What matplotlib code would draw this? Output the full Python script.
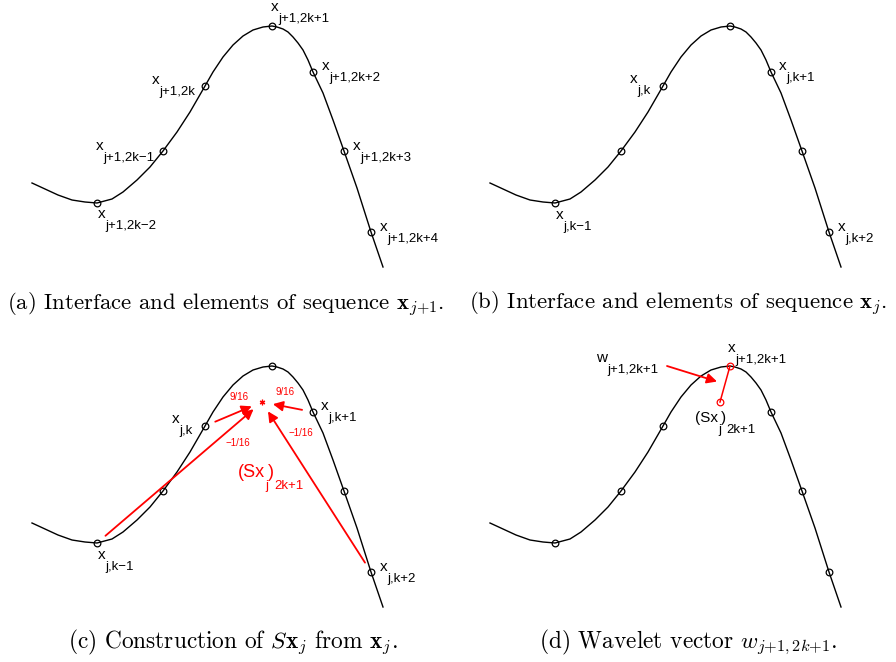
import matplotlib
matplotlib.use("Agg")
import matplotlib.pyplot as plt

plt.rcParams["mathtext.fontset"] = "cm"

# curve, in pixel units of one panel (y down)
curve_x = [32, 45, 58, 72, 85, 97, 112, 123, 137, 150, 163, 177, 190, 205, 213, 223,
           233, 243, 253, 263, 272, 277, 283, 288, 293, 298, 303, 308, 313, 323, 333,
           344, 357, 371, 383]
curve_y = [183, 189, 195, 200, 202, 203, 199, 192, 180, 167, 151, 132, 112, 86, 72, 57,
           45, 36, 30, 27, 26, 27, 29, 32, 37, 43, 50, 60, 72, 93, 120,
           151, 188, 232, 267]

# the seven sample points x_{j+1,2k-2} ... x_{j+1,2k+4}
pts_x = [97, 163, 205, 272, 313, 344, 371]
pts_y = [203, 151, 86, 26, 72, 151, 232]

# predicted point (Sx_j)_{2k+1}
sx_x, sx_y = 262, 62

subs_a = ["j+1,2k\u22122", "j+1,2k\u22121", "j+1,2k", "j+1,2k+1",
          "j+1,2k+2", "j+1,2k+3", "j+1,2k+4"]
subs_b = ["j,k\u22121", "j,k", "j,k+1", "j,k+2"]
idx_b = [0, 2, 4, 6]          # which sample points carry the coarse labels
weights = ["\u22121/16", "9/16", "9/16", "\u22121/16"]

captions = [r"(a) Interface and elements of sequence $\mathbf{x}_{j{+}1}$.",
            r"(b) Interface and elements of sequence $\mathbf{x}_j$.",
            r"(c) Construction of $S\mathbf{x}_j$ from $\mathbf{x}_j$.",
            r"(d) Wavelet vector $w_{j{+}1,2k{+}1}$."]

W, H = 896, 662
fig = plt.figure(figsize=(W / 100, H / 100), dpi=100)
SANS = "Liberation Sans"


def panel(left, top):
    ax = fig.add_axes([left / W, 1 - (top + 320) / H, 438 / W, 320 / H])
    ax.set_xlim(0, 438)
    ax.set_ylim(320, 0)
    ax.axis("off")
    ax.plot(curve_x, curve_y, color="k", lw=1.0)
    return ax


def label(ax, x, y, base, sub, color="k", bsize=11, ssize=9.5):
    t = ax.text(x, y, base, fontsize=bsize, color=color, family=SANS,
                va="baseline", ha="left")
    s = ax.annotate(sub, xy=(1, 0), xycoords=t, xytext=(0, 1),
                    textcoords="offset points", va="top", ha="left",
                    fontsize=ssize, color=color, family=SANS)
    return t, s


def sx_label(ax, x, y, color, bsize, ssize):
    t0 = ax.text(x, y, "(Sx", fontsize=bsize, color=color, family=SANS,
                 va="baseline", ha="left")
    t1 = ax.annotate("j", xy=(1, 0), xycoords=t0, xytext=(0, 1),
                     textcoords="offset points", va="top", ha="left",
                     fontsize=ssize, color=color, family=SANS)
    t2 = ax.annotate(")", xy=(1, 0), xycoords=(t1, t0), va="bottom", ha="left",
                     fontsize=bsize, color=color, family=SANS)
    ax.annotate("2k+1", xy=(1, 0), xycoords=t2, xytext=(0, 1),
                textcoords="offset points", va="top", ha="left",
                fontsize=ssize, color=color, family=SANS)


def caption(ax, cx, y, text, size=16.8):
    ax.text(cx, y, text, family="cmr10", fontsize=size, ha="center",
            va="baseline")


circ = dict(ls="none", marker="o", ms=4.8, mfc="none", mew=0.9)

# (a)
ax = panel(0, 0)
ax.plot(pts_x, pts_y, color="k", **circ)
pos_a = [(98, 218), (96, 150), (152, 84), (271, 11), (322, 70), (353, 150), (380, 231)]
for (lx, ly), s in zip(pos_a, subs_a):
    label(ax, lx, ly, "x", s)
caption(ax, 226, 310, captions[0], 16.4)

# (b)
ax = panel(458, 0)
ax.plot(pts_x, pts_y, color="k", **circ)
pos_b = [(98, 219), (172, 83), (321, 70), (380, 231)]
for (lx, ly), s in zip(pos_b, subs_b):
    label(ax, lx, ly, "x", s)
caption(ax, 220, 309, captions[1], 16.4)

# (c)
ax = panel(0, 340)
ax.plot(pts_x, pts_y, color="k", **circ)
for (lx, ly), s in zip(pos_b, subs_b):
    label(ax, lx, ly, "x", s)
for i in idx_b:
    ax.annotate("", xy=(sx_x, sx_y), xytext=(pts_x[i], pts_y[i]),
                arrowprops=dict(arrowstyle="-|>,head_length=0.6,head_width=0.3",
                                color="red", lw=1.3, shrinkA=8, shrinkB=8))
ax.plot([sx_x], [sx_y], ls="none", marker=(6, 2, 0), ms=4, color="red", mew=0.9)
wpos = [(238, 103), (239, 57), (285, 52), (301, 93)]
for (wx, wy), w in zip(wpos, weights):
    ax.text(wx, wy, w, color="red", fontsize=7, family=SANS, ha="center",
            va="center")
sx_label(ax, 238, 137, "red", 13, 9.5)
caption(ax, 233, 308, captions[2])

# (d)
ax = panel(458, 340)
mask = [i for i in range(len(pts_x)) if i != 3]
ax.plot([pts_x[i] for i in mask], [pts_y[i] for i in mask], color="k", **circ)
ax.plot([sx_x, pts_x[3]], [sx_y, pts_y[3]], color="red", lw=1.1)
ax.plot([sx_x, pts_x[3]], [sx_y, pts_y[3]], color="red", **circ)
mid = ((sx_x + pts_x[3]) / 2, (sx_y + pts_y[3]) / 2)
ax.annotate("", xy=mid, xytext=(209, 26),
            arrowprops=dict(arrowstyle="-|>,head_length=0.6,head_width=0.3",
                            color="red", lw=1.3, shrinkA=0, shrinkB=6))
label(ax, 138, 22, "w", "j+1,2k+1")
label(ax, 270, 12, "x", "j+1,2k+1")
sx_label(ax, 237, 82, "k", 11, 9.5)
caption(ax, 230, 308, captions[3])

fig.savefig("out.png", dpi=100)
